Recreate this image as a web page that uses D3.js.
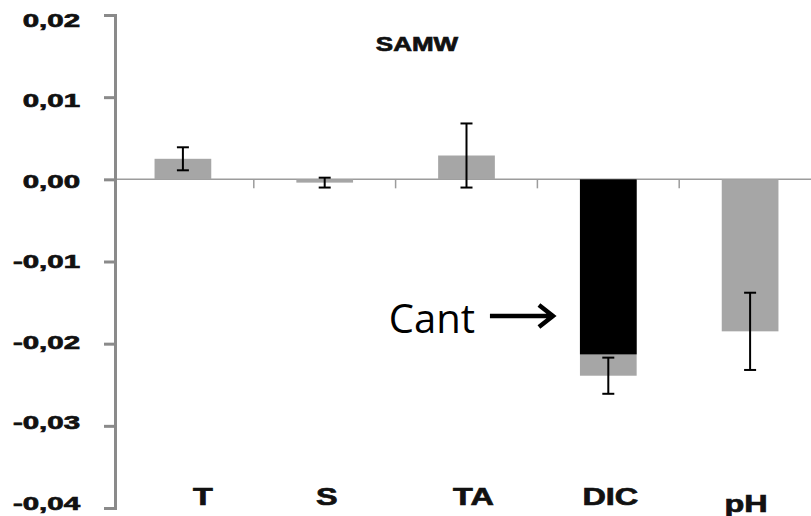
<!doctype html>
<html lang="en">
<head>
<meta charset="utf-8">
<title>SAMW</title>
<script src="https://cdn.jsdelivr.net/npm/d3@7/dist/d3.min.js"></script>
<style>
  body { margin: 0; background: #fff; }
  text { font-family: "Liberation Sans", Arial, sans-serif; }
  .heavy { stroke: #111; stroke-width: 0.7px; paint-order: stroke; }
</style>
</head>
<body>
<script>
// values
var categories = ["T", "S", "TA", "DIC", "pH"];
var values = [0.0025, -0.0004, 0.0029, -0.0239, -0.0185];
var errors = [0.0014, 0.0006, 0.0039, 0.0022, 0.0047];
var cantCategory = "DIC";
var cantValue = -0.0213;
var yTicks = [0.02, 0.01, 0, -0.01, -0.02, -0.03, -0.04];

// small nudges so the labels sit where the original put them
var labelNudge = { T: [20, 0], S: [2, 0], TA: [7, 0], DIC: [2, 0], pH: [-4, 7] };

var data = categories.map(function (c, i) {
    return { cat: c, value: values[i], err: errors[i] };
});

var svg = d3.select("body").append("svg")
    .attr("width", 811).attr("height", 516);

svg.append("rect").attr("width", 811).attr("height", 516).attr("fill", "#fff");

var x = d3.scaleBand().domain(categories).range([112, 821]);
var y = d3.scaleLinear().domain([-0.04, 0.02]).range([508, 15]);
var bw = x.bandwidth();
var barW = bw * 0.4;

var fmt = d3.formatLocale({ decimal: ",", thousands: ".", grouping: [3], currency: ["", ""], minus: "-" }).format(".2f");

// zero line
svg.append("line")
    .attr("x1", 115).attr("x2", 811)
    .attr("y1", y(0)).attr("y2", y(0))
    .attr("stroke", "#9c9c9c").attr("stroke-width", 1.5);

// category separators below the zero line
svg.append("g").selectAll("line")
    .data(categories)
    .enter().append("line")
    .attr("x1", function (d) { return x(d) + bw; })
    .attr("x2", function (d) { return x(d) + bw; })
    .attr("y1", y(0)).attr("y2", y(0) + 9)
    .attr("stroke", "#9c9c9c").attr("stroke-width", 1.5);

// bars
svg.append("g").selectAll("rect")
    .data(data)
    .enter().append("rect")
    .attr("x", function (d) { return x(d.cat) + (bw - barW) / 2; })
    .attr("y", function (d) { return y(Math.max(0, d.value)); })
    .attr("width", barW)
    .attr("height", function (d) { return Math.abs(y(d.value) - y(0)); })
    .attr("fill", "#a6a6a6");

// Cant part of DIC
svg.append("rect")
    .attr("x", x(cantCategory) + (bw - barW) / 2)
    .attr("y", y(0))
    .attr("width", barW)
    .attr("height", y(cantValue) - y(0))
    .attr("fill", "#000");

// error bars
var eb = svg.append("g").attr("stroke", "#000").attr("stroke-width", 2);
data.forEach(function (d) {
    var cx = x(d.cat) + bw / 2;
    var y1 = y(d.value + d.err), y2 = y(d.value - d.err);
    eb.append("line").attr("x1", cx).attr("x2", cx).attr("y1", y1).attr("y2", y2);
    eb.append("line").attr("x1", cx - 6).attr("x2", cx + 6).attr("y1", y1).attr("y2", y1);
    eb.append("line").attr("x1", cx - 6).attr("x2", cx + 6).attr("y1", y2).attr("y2", y2);
});

// y axis
var yAxis = svg.append("g")
    .attr("transform", "translate(115,0)")
    .call(d3.axisLeft(y).tickValues(yTicks).tickSize(11).tickSizeOuter(11).tickFormat(fmt));
yAxis.select(".domain").attr("stroke", "#8a8a8a").attr("stroke-width", 3);
yAxis.selectAll(".tick line").attr("stroke", "#8a8a8a").attr("stroke-width", 3);
var midY = (y.range()[0] + y.range()[1]) / 2;
yAxis.selectAll(".tick text")
    .attr("class", "heavy")
    .attr("x", -35 / 1.55)
    .attr("y", function (d) { return (midY - y(d)) * 0.02; })
    .attr("transform", "scale(1.55,1)")
    .attr("fill", "#111")
    .style("font-size", "19px")
    .style("font-weight", "bold")
    .style("font-family", "'Liberation Sans', Arial, sans-serif");

// category labels
svg.append("g").selectAll("text")
    .data(categories)
    .enter().append("text")
    .attr("class", "heavy")
    .attr("transform", function (d) {
        var n = labelNudge[d] || [0, 0];
        return "translate(" + (x(d) + bw / 2 + n[0]) + "," + (505 + n[1]) + ") scale(1.35,1)";
    })
    .attr("text-anchor", "middle")
    .attr("fill", "#111")
    .style("font-size", "24px")
    .style("font-weight", "bold")
    .text(function (d) { return d; });

// title
svg.append("text")
    .attr("class", "heavy")
    .attr("transform", "translate(417,51) scale(1.3,1)")
    .attr("text-anchor", "middle")
    .attr("fill", "#111")
    .style("font-size", "20px")
    .style("font-weight", "bold")
    .text("SAMW");

// Cant annotation
var barLeft = x(cantCategory) + (bw - barW) / 2;
var tip = barLeft - 27;
svg.append("text")
    .attr("x", tip - 78).attr("y", 333)
    .attr("text-anchor", "end")
    .style("font-family", "'Open Sans', 'Noto Sans', sans-serif")
    .style("font-size", "40px")
    .text("Cant");
svg.append("path")
    .attr("d", "M" + (tip - 63) + ",316H" + (tip - 3) +
        "M" + (tip - 14) + ",305L" + tip + ",316L" + (tip - 14) + ",327")
    .attr("fill", "none")
    .attr("stroke", "#000")
    .attr("stroke-width", 4.5);
</script>
</body>
</html>
